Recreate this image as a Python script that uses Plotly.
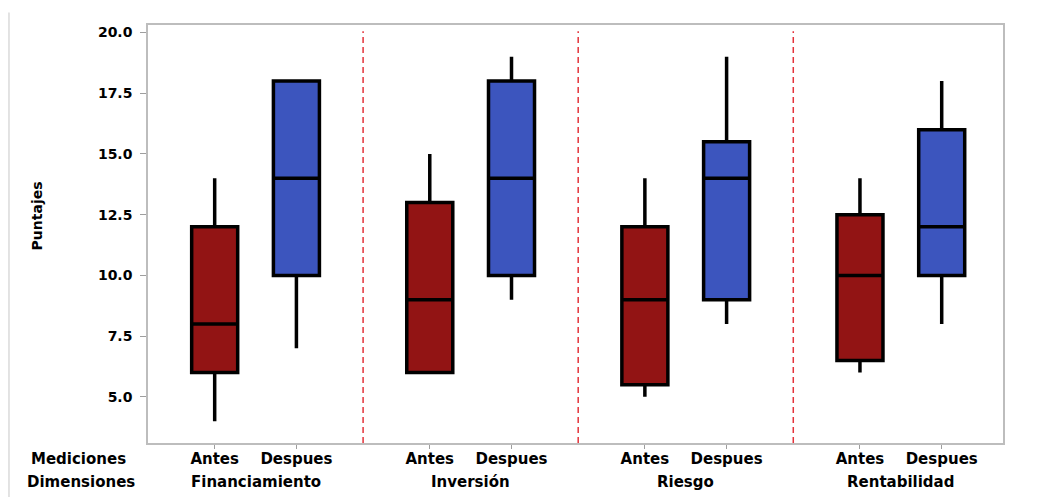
import plotly.graph_objects as go

dimensiones = ["Financiamiento", "Inversión", "Riesgo", "Rentabilidad"]
mediciones = ["Antes", "Despues"]

antes_low = [4, 6, 5, 6]
antes_q1 = [6, 6, 5.5, 6.5]
antes_med = [8, 9, 9, 10]
antes_q3 = [12, 13, 12, 12.5]
antes_high = [14, 15, 14, 14]

desp_low = [7, 9, 8, 8]
desp_q1 = [10, 10, 9, 10]
desp_med = [14, 14, 14, 12]
desp_q3 = [18, 18, 15.5, 16]
desp_high = [18, 19, 19, 18]

y_ticks = [5.0, 7.5, 10.0, 12.5, 15.0, 17.5, 20.0]

RED = "#921414"
BLUE = "#3C55BE"
FONT = "DejaVu Sans"

positions = list(range(len(dimensiones)))
BOXGAP = 0.24
OFF = (1 - BOXGAP) / 4

fig = go.Figure()
for name, lo, q1, md, q3, hi, col in [
    ("Antes", antes_low, antes_q1, antes_med, antes_q3, antes_high, RED),
    ("Despues", desp_low, desp_q1, desp_med, desp_q3, desp_high, BLUE),
]:
    fig.add_trace(go.Box(
        x=positions, q1=q1, median=md, q3=q3,
        lowerfence=lo, upperfence=hi,
        name=name, fillcolor=col,
        line=dict(color="black", width=3.5),
        whiskerwidth=0, boxpoints=False, showlegend=False,
        hoverinfo="skip",
    ))

tickvals, ticktext = [], []
for p in positions:
    tickvals += [p - OFF, p + OFF]
    ticktext += mediciones

shapes = []
for p in positions[:-1]:
    shapes.append(dict(type="line", xref="x", yref="paper", x0=p + 0.5, x1=p + 0.5,
                       y0=0, y1=0.985, line=dict(color="#E3323A", width=1.5, dash="6px,4px")))
shapes.append(dict(type="line", xref="paper", yref="paper", x0=-0.1626, x1=-0.1626,
                   y0=-0.16, y1=1.03, line=dict(color="#D0D0D0", width=1.2)))

bold = lambda s: dict(family=FONT, size=s, color="black", weight="bold")

annotations = []
for p, d in zip(positions, dimensiones):
    annotations.append(dict(x=p, y=-0.093, xref="x", yref="paper", text=d, showarrow=False,
                            xanchor="center", yanchor="middle", font=bold(15)))
annotations.append(dict(x=-0.0813, y=-0.038, xref="paper", yref="paper", text="Mediciones",
                        showarrow=False, xanchor="center", yanchor="middle", font=bold(15)))
annotations.append(dict(x=-0.0778, y=-0.093, xref="paper", yref="paper", text="Dimensiones",
                        showarrow=False, xanchor="center", yanchor="middle", font=bold(15)))
annotations.append(dict(x=-0.13, y=0.544, xref="paper", yref="paper", text="Puntajes",
                        showarrow=False, textangle=-90, xanchor="center", yanchor="middle",
                        font=bold(14)))

fig.update_layout(
    width=1038, height=497,
    margin=dict(l=140, r=43, t=17, b=62, autoexpand=False),
    plot_bgcolor="white", paper_bgcolor="white",
    boxmode="group", boxgap=BOXGAP, boxgroupgap=0.437,
    shapes=shapes, annotations=annotations,
    xaxis=dict(range=[-0.5, 3.475], tickmode="array", tickvals=tickvals, ticktext=ticktext,
               showgrid=False, zeroline=False, showline=True, mirror=True,
               linecolor="#BDBDBD", linewidth=1.5, ticks="outside", ticklen=4,
               ticklabelstandoff=-3,
               tickcolor="#9E9E9E", tickfont=bold(15)),
    yaxis=dict(range=[3.1, 20.31], tickmode="array", tickvals=y_ticks,
               ticktext=[f"{v:.1f}" for v in y_ticks],
               showgrid=False, zeroline=False, showline=True, mirror=True,
               linecolor="#BDBDBD", linewidth=1.5, ticks="outside", ticklen=6,
               ticklabelstandoff=5,
               tickcolor="#9E9E9E", tickfont=bold(14)),
)

fig.write_html("out.html")
